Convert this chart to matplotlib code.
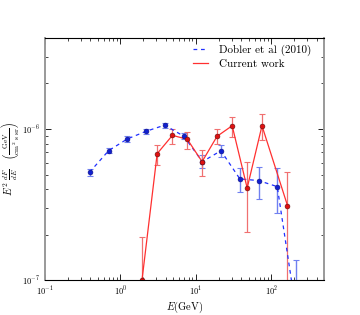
import matplotlib
matplotlib.use('Agg')
import matplotlib.pyplot as plt
import numpy as np

plt.rcParams['font.family'] = 'serif'
plt.rcParams['font.serif'] = ['cmr10', 'DejaVu Serif']
plt.rcParams['mathtext.fontset'] = 'dejavusans'
plt.rcParams['axes.formatter.use_mathtext'] = True

# Dobler et al (2010)
dob_e = [0.39, 0.70, 1.24, 2.2, 3.87, 6.95, 12.2, 21.5, 38.3, 68.0, 120.0, 211.0]
dob_f = [5.18e-7, 7.2e-7, 8.6e-7, 9.66e-7, 1.06e-6, 8.94e-7, 6.08e-7, 7.18e-7,
         4.68e-7, 4.56e-7, 4.16e-7, 6.5e-8]
dob_hi = [5.45e-7, 7.5e-7, 8.95e-7, 1.0e-6, 1.1e-6, 9.35e-7, 6.7e-7, 7.83e-7,
          5.5e-7, 5.62e-7, 5.5e-7, 1.36e-7]
dob_lo = [4.92e-7, 6.9e-7, 8.25e-7, 9.3e-7, 1.02e-6, 8.55e-7, 5.52e-7, 6.55e-7,
          3.82e-7, 3.47e-7, 2.79e-7, 3.0e-8]

# Current work
cur_e = [1.93, 3.07, 4.89, 7.7, 12.1, 19.1, 30.3, 47.9, 75.3, 164.0]
cur_f = [1.0e-7, 6.87e-7, 9.07e-7, 8.55e-7, 6.08e-7, 8.94e-7, 1.05e-6, 4.07e-7,
         1.05e-6, 3.12e-7]
cur_hi = [1.93e-7, 7.83e-7, 1.0e-6, 9.6e-7, 7.3e-7, 1.0e-6, 1.2e-6, 6.05e-7,
          1.26e-6, 5.2e-7]
cur_lo = [3.0e-8, 5.79e-7, 7.9e-7, 7.4e-7, 4.88e-7, 7.9e-7, 8.9e-7, 2.08e-7,
          8.47e-7, 8.0e-8]

dob_f = np.array(dob_f)
cur_f = np.array(cur_f)
dob_err = [dob_f - np.array(dob_lo), np.array(dob_hi) - dob_f]
cur_err = [cur_f - np.array(cur_lo), np.array(cur_hi) - cur_f]

fig = plt.figure(figsize=(3.6, 3.15), dpi=100)
ax = fig.add_subplot(1, 1, 1)

ax.errorbar(dob_e, dob_f, yerr=dob_err, fmt='none', ecolor='#7080f0',
            elinewidth=1.0, capsize=2.5, capthick=0.8)
ax.errorbar(cur_e, cur_f, yerr=cur_err, fmt='none', ecolor='#f07070',
            elinewidth=0.9, capsize=2.5, capthick=0.8)
ax.plot(dob_e, dob_f, '--', color='#2030ff', lw=0.9, dashes=(3, 3),
        label='Dobler et al (2010)')
ax.plot(cur_e, cur_f, '-', color='#ff3030', lw=0.9, label='Current work')
ax.plot(dob_e, dob_f, 'o', color='#1020d0', mec='#101080', mew=0.4, ms=3.5)
ax.plot(cur_e, cur_f, 'o', color='#e01010', mec='#601010', mew=0.4, ms=3.5)

ax.set_xscale('log')
ax.set_yscale('log')
ax.set_xlim(0.1, 500)
ax.set_ylim(1e-7, 4e-6)

ax.tick_params(which='both', direction='in', top=True, right=True, labelsize=6)
ax.tick_params(which='major', length=4, width=0.6)
ax.tick_params(which='minor', length=2, width=0.5)
for s in ['left', 'right']:
    ax.spines[s].set_color('#999999')
    ax.spines[s].set_linewidth(1.4)
for s in ['top', 'bottom']:
    ax.spines[s].set_linewidth(0.8)

ax.set_xlabel(r'$E$(GeV)', fontsize=7.5, labelpad=1, math_fontfamily='cm')
ax.set_ylabel(r'$E^2\ \frac{dF}{dE}\quad\left(\frac{\rm GeV}{\rm cm^2\ s\ sr}\right)$',
              fontsize=7.5, labelpad=1, math_fontfamily='cm')

ax.legend(loc='upper right', frameon=False, fontsize=8, handlelength=1.4,
          handletextpad=1.0, labelspacing=0.3, borderaxespad=0.2,
          bbox_to_anchor=(0.98, 1.0))

plt.savefig('out.png', dpi=100)
